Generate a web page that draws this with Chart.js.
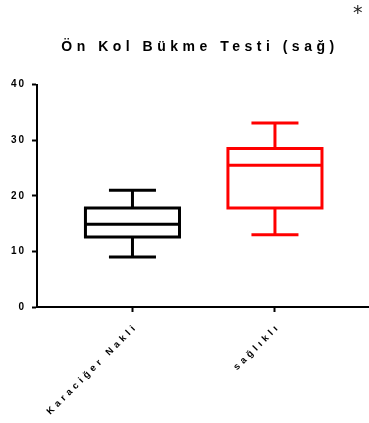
<!DOCTYPE html>
<html><head><meta charset="utf-8">
<script src="https://cdn.jsdelivr.net/npm/chart.js@4"></script>
<style>html,body{margin:0;padding:0;background:#fff}#wrap{width:369px;height:423px;position:relative}</style>
</head><body><div id="wrap"><canvas id="c"></canvas></div>
<script>
const categories = ['Karaciğer Nakli', 'sağlıklı'];
const minValues = [9, 13];
const q1Values = [12.6, 17.8];
const medianValues = [14.9, 25.5];
const q3Values = [17.8, 28.5];
const maxValues = [21, 33.1];
const yTickValues = [0, 10, 20, 30, 40];
const seriesColors = ['#000000', '#ff0000'];
const chartTitle = 'Ön Kol Bükme Testi (sağ)';
const significanceMark = '*';

const FAMILY = "'Liberation Sans', Arial, sans-serif";
const BOX_HALF = 0.33, CAP_HALF = 0.165, LINE_W = 3;

const datasets = [];
categories.forEach((cat, i) => {
  const x = i + 1, c = seriesColors[i];
  const seg = (label, pts, cap) => datasets.push({
    label, data: pts, borderColor: c, backgroundColor: c, borderWidth: LINE_W,
    showLine: true, pointRadius: 0, pointHoverRadius: 0, fill: false, tension: 0,
    borderCapStyle: cap || 'butt', borderJoinStyle: 'miter'
  });
  seg(cat + ' box', [
    {x: x - BOX_HALF, y: q1Values[i]}, {x: x + BOX_HALF, y: q1Values[i]},
    {x: x + BOX_HALF, y: q3Values[i]}, {x: x - BOX_HALF, y: q3Values[i]},
    {x: x - BOX_HALF, y: q1Values[i]}], 'square');
  seg(cat + ' median', [{x: x - BOX_HALF, y: medianValues[i]}, {x: x + BOX_HALF, y: medianValues[i]}]);
  seg(cat + ' upper whisker', [{x: x, y: q3Values[i]}, {x: x, y: maxValues[i]}]);
  seg(cat + ' lower whisker', [{x: x, y: q1Values[i]}, {x: x, y: minValues[i]}]);
  seg(cat + ' max', [{x: x - CAP_HALF, y: maxValues[i]}, {x: x + CAP_HALF, y: maxValues[i]}]);
  seg(cat + ' min', [{x: x - CAP_HALF, y: minValues[i]}, {x: x + CAP_HALF, y: minValues[i]}]);
});

const spacingPlugin = {
  id: 'spacing',
  afterLayout(chart) {
    if (chart.titleBlock) chart.titleBlock.right -= 2;
    chart.boxes.forEach(b => {
      if (b !== chart.titleBlock && b.options && b.options.text === chartTitle) { b.left -= 6; }
    });
  },
  beforeDraw(chart) {
    chart.ctx.letterSpacing = '4.5px';
    [['x', '3.7px'], ['y', '2px']].forEach(([id, sp]) => {
      const s = chart.scales[id];
      if (s && !s._spWrapped) {
        const orig = s.drawLabels;
        s.drawLabels = function (a) {
          const ctx = this.ctx; ctx.save(); ctx.letterSpacing = sp; orig.call(this, a); ctx.restore();
        };
        s._spWrapped = true;
      }
    });
  }
};

new Chart(document.getElementById('c'), {
  type: 'scatter',
  data: { datasets },
  plugins: [spacingPlugin],
  options: {
    responsive: true, maintainAspectRatio: false, animation: false, devicePixelRatio: 1,
    layout: { padding: 0 },
    plugins: {
      legend: { display: false },
      tooltip: { enabled: false },
      title: {
        display: true, text: significanceMark, align: 'end', color: '#222',
        font: { family: "'DejaVu Sans', sans-serif", size: 19, weight: 'normal', lineHeight: 1.2 },
        padding: { top: 3, bottom: 0 }
      },
      subtitle: {
        display: true, text: chartTitle, align: 'center', fullSize: false, color: '#000',
        font: { family: FAMILY, size: 14, weight: 'bold', lineHeight: 1.2 },
        padding: { top: 13, bottom: 29 }
      }
    },
    scales: {
      x: {
        type: 'linear', min: 0.33, max: 2.66,
        afterBuildTicks: s => { s.ticks = categories.map((_, i) => ({ value: i + 1 })); },
        afterFit: s => { s.height = 116; },
        ticks: {
          autoSkip: false, minRotation: 45, maxRotation: 45, padding: 9, labelOffset: 4, color: '#000',
          font: { family: FAMILY, size: 9.5, weight: 'bold' },
          callback: v => categories[Math.round(v) - 1]
        },
        grid: { drawOnChartArea: false, drawTicks: true, tickLength: 5, tickWidth: 2, tickColor: '#000', color: '#000' },
        border: { display: true, color: '#000', width: 2 }
      },
      y: {
        min: 0, max: 40,
        afterBuildTicks: s => { s.ticks = yTickValues.map(v => ({ value: v })); },
        afterFit: s => { s.width = 37; },
        ticks: { padding: 6, color: '#000', font: { family: FAMILY, size: 10, weight: 'bold' } },
        grid: { drawOnChartArea: false, drawTicks: true, tickLength: 5, tickWidth: 2, tickColor: '#000', color: '#000' },
        border: { display: true, color: '#000', width: 2 }
      }
    }
  }
});
</script></body></html>
